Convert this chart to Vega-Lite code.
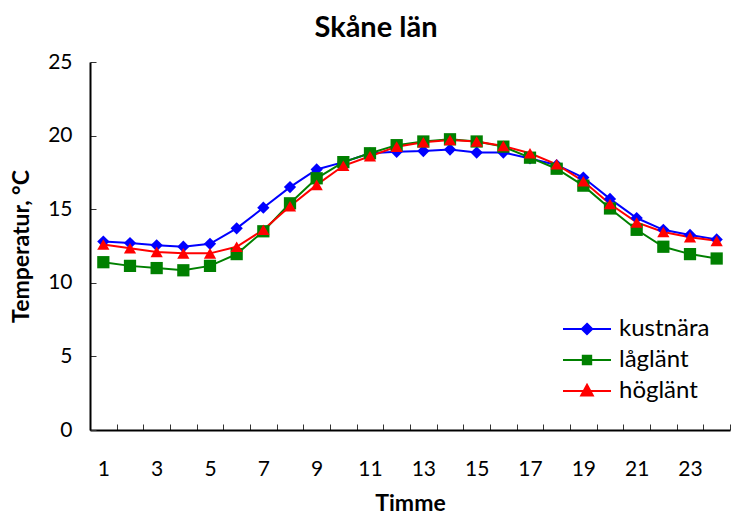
{
  "$schema": "https://vega.github.io/schema/vega-lite/v6.json",
  "width": 640,
  "height": 368,
  "autosize": {"type": "none"},
  "padding": {"left": 90, "top": 62, "right": 2, "bottom": 84},
  "background": "white",
  "config": {
    "font": "Lato",
    "view": {"stroke": null},
    "axis": {"grid": false, "domainColor": "#000000", "domainWidth": 2, "tickColor": "#333333", "tickWidth": 1, "labelColor": "#000000", "titleColor": "#000000"}
  },
  "title": {"text": "Skåne län", "fontSize": 29, "fontWeight": "bold", "anchor": "middle", "frame": "group", "dx": -34, "offset": 8, "color": "#000000"},
  "resolve": {"legend": {"color": "independent"}},
  "data": {"values": [
    {"h": 1, "s": "kustnära", "t": 12.8}, {"h": 2, "s": "kustnära", "t": 12.7}, {"h": 3, "s": "kustnära", "t": 12.55}, {"h": 4, "s": "kustnära", "t": 12.45}, {"h": 5, "s": "kustnära", "t": 12.65}, {"h": 6, "s": "kustnära", "t": 13.7}, {"h": 7, "s": "kustnära", "t": 15.1}, {"h": 8, "s": "kustnära", "t": 16.5}, {"h": 9, "s": "kustnära", "t": 17.7}, {"h": 10, "s": "kustnära", "t": 18.2}, {"h": 11, "s": "kustnära", "t": 18.8}, {"h": 12, "s": "kustnära", "t": 18.9}, {"h": 13, "s": "kustnära", "t": 18.95}, {"h": 14, "s": "kustnära", "t": 19.05}, {"h": 15, "s": "kustnära", "t": 18.85}, {"h": 16, "s": "kustnära", "t": 18.85}, {"h": 17, "s": "kustnära", "t": 18.45}, {"h": 18, "s": "kustnära", "t": 18.0}, {"h": 19, "s": "kustnära", "t": 17.15}, {"h": 20, "s": "kustnära", "t": 15.7}, {"h": 21, "s": "kustnära", "t": 14.4}, {"h": 22, "s": "kustnära", "t": 13.6}, {"h": 23, "s": "kustnära", "t": 13.25}, {"h": 24, "s": "kustnära", "t": 12.95},
    {"h": 1, "s": "låglänt", "t": 11.4}, {"h": 2, "s": "låglänt", "t": 11.15}, {"h": 3, "s": "låglänt", "t": 11.0}, {"h": 4, "s": "låglänt", "t": 10.85}, {"h": 5, "s": "låglänt", "t": 11.15}, {"h": 6, "s": "låglänt", "t": 11.95}, {"h": 7, "s": "låglänt", "t": 13.5}, {"h": 8, "s": "låglänt", "t": 15.4}, {"h": 9, "s": "låglänt", "t": 17.1}, {"h": 10, "s": "låglänt", "t": 18.2}, {"h": 11, "s": "låglänt", "t": 18.8}, {"h": 12, "s": "låglänt", "t": 19.35}, {"h": 13, "s": "låglänt", "t": 19.6}, {"h": 14, "s": "låglänt", "t": 19.75}, {"h": 15, "s": "låglänt", "t": 19.6}, {"h": 16, "s": "låglänt", "t": 19.25}, {"h": 17, "s": "låglänt", "t": 18.5}, {"h": 18, "s": "låglänt", "t": 17.75}, {"h": 19, "s": "låglänt", "t": 16.6}, {"h": 20, "s": "låglänt", "t": 15.05}, {"h": 21, "s": "låglänt", "t": 13.6}, {"h": 22, "s": "låglänt", "t": 12.45}, {"h": 23, "s": "låglänt", "t": 11.95}, {"h": 24, "s": "låglänt", "t": 11.65},
    {"h": 1, "s": "höglänt", "t": 12.6}, {"h": 2, "s": "höglänt", "t": 12.35}, {"h": 3, "s": "höglänt", "t": 12.1}, {"h": 4, "s": "höglänt", "t": 12.0}, {"h": 5, "s": "höglänt", "t": 12.0}, {"h": 6, "s": "höglänt", "t": 12.45}, {"h": 7, "s": "höglänt", "t": 13.6}, {"h": 8, "s": "höglänt", "t": 15.2}, {"h": 9, "s": "höglänt", "t": 16.65}, {"h": 10, "s": "höglänt", "t": 17.95}, {"h": 11, "s": "höglänt", "t": 18.6}, {"h": 12, "s": "höglänt", "t": 19.25}, {"h": 13, "s": "höglänt", "t": 19.55}, {"h": 14, "s": "höglänt", "t": 19.7}, {"h": 15, "s": "höglänt", "t": 19.6}, {"h": 16, "s": "höglänt", "t": 19.3}, {"h": 17, "s": "höglänt", "t": 18.8}, {"h": 18, "s": "höglänt", "t": 18.05}, {"h": 19, "s": "höglänt", "t": 16.9}, {"h": 20, "s": "höglänt", "t": 15.35}, {"h": 21, "s": "höglänt", "t": 14.1}, {"h": 22, "s": "höglänt", "t": 13.45}, {"h": 23, "s": "höglänt", "t": 13.1}, {"h": 24, "s": "höglänt", "t": 12.85}
  ]},
  "layer": [
    {
      "mark": {"type": "line", "strokeWidth": 2},
      "encoding": {
        "x": {
          "field": "h", "type": "ordinal",
          "scale": {"type": "band", "paddingInner": 0, "paddingOuter": 0},
          "axis": {"title": "Timme", "titleFontSize": 23, "titleFontWeight": "bold", "titlePadding": 13, "labelAngle": 0, "labelFontSize": 21, "labelExpr": "datum.value % 2 == 1 ? datum.label : ''", "tickBand": "extent", "tickSize": -6, "labelPadding": 34}
        },
        "y": {
          "field": "t", "type": "quantitative",
          "scale": {"domain": [0, 25], "nice": false},
          "axis": {"title": "Temperatur, °C", "titleFontSize": 23, "titleFontWeight": "bold", "titlePadding": 14, "values": [0, 5, 10, 15, 20, 25], "labelFontSize": 21, "tickSize": -6, "labelPadding": 24}
        },
        "color": {
          "field": "s", "type": "nominal",
          "scale": {"domain": ["kustnära", "låglänt", "höglänt"], "range": ["#0000ff", "#008000", "#ff0000"]},
          "legend": null
        }
      }
    },
    {
      "mark": {"type": "point", "filled": true, "size": 150, "opacity": 1},
      "encoding": {
        "x": {"field": "h", "type": "ordinal"},
        "y": {"field": "t", "type": "quantitative"},
        "color": {"field": "s", "type": "nominal", "legend": null},
        "shape": {
          "condition": [
            {"test": "datum.s === 'kustnära'", "value": "diamond"},
            {"test": "datum.s === 'låglänt'", "value": "square"}
          ],
          "value": "triangle-up"
        }
      }
    },
    {
      "transform": [{"filter": "datum.t < -100"}],
      "mark": {"type": "point", "size": 400, "opacity": 1, "strokeWidth": 2},
      "encoding": {
        "fill": {
          "field": "s", "type": "nominal",
          "scale": {"domain": ["kustnära", "låglänt", "höglänt"], "range": ["#0000ff", "#008000", "#ff0000"]},
          "legend": {"title": null, "orient": "none", "legendX": 485, "legendY": 255, "padding": 0, "labelFontSize": 24, "labelColor": "#000000", "labelOffset": 20, "rowPadding": 7, "symbolSize": 400, "symbolStrokeWidth": 2}
        },
        "stroke": {
          "field": "s", "type": "nominal",
          "scale": {"domain": ["kustnära", "låglänt", "höglänt"], "range": ["#0000ff", "#008000", "#ff0000"]},
          "legend": {"title": null, "orient": "none", "legendX": 485, "legendY": 255, "padding": 0, "labelFontSize": 24, "labelColor": "#000000", "labelOffset": 20, "rowPadding": 7, "symbolSize": 400, "symbolStrokeWidth": 2}
        },
        "shape": {
          "field": "s", "type": "nominal",
          "scale": {"domain": ["kustnära", "låglänt", "höglänt"], "range": ["M-2.4,0L2.4,0M0,-0.52L0.52,0L0,0.52L-0.52,0Z", "M-2.4,0L2.4,0M-0.42,-0.42L0.42,-0.42L0.42,0.42L-0.42,0.42Z", "M-2.4,0L2.4,0M0,-0.62L0.58,0.45L-0.58,0.45Z"]},
          "legend": {"title": null, "orient": "none", "legendX": 485, "legendY": 255, "padding": 0, "labelFontSize": 24, "labelColor": "#000000", "labelOffset": 20, "rowPadding": 7, "symbolSize": 400, "symbolStrokeWidth": 2}
        }
      }
    }
  ]
}
